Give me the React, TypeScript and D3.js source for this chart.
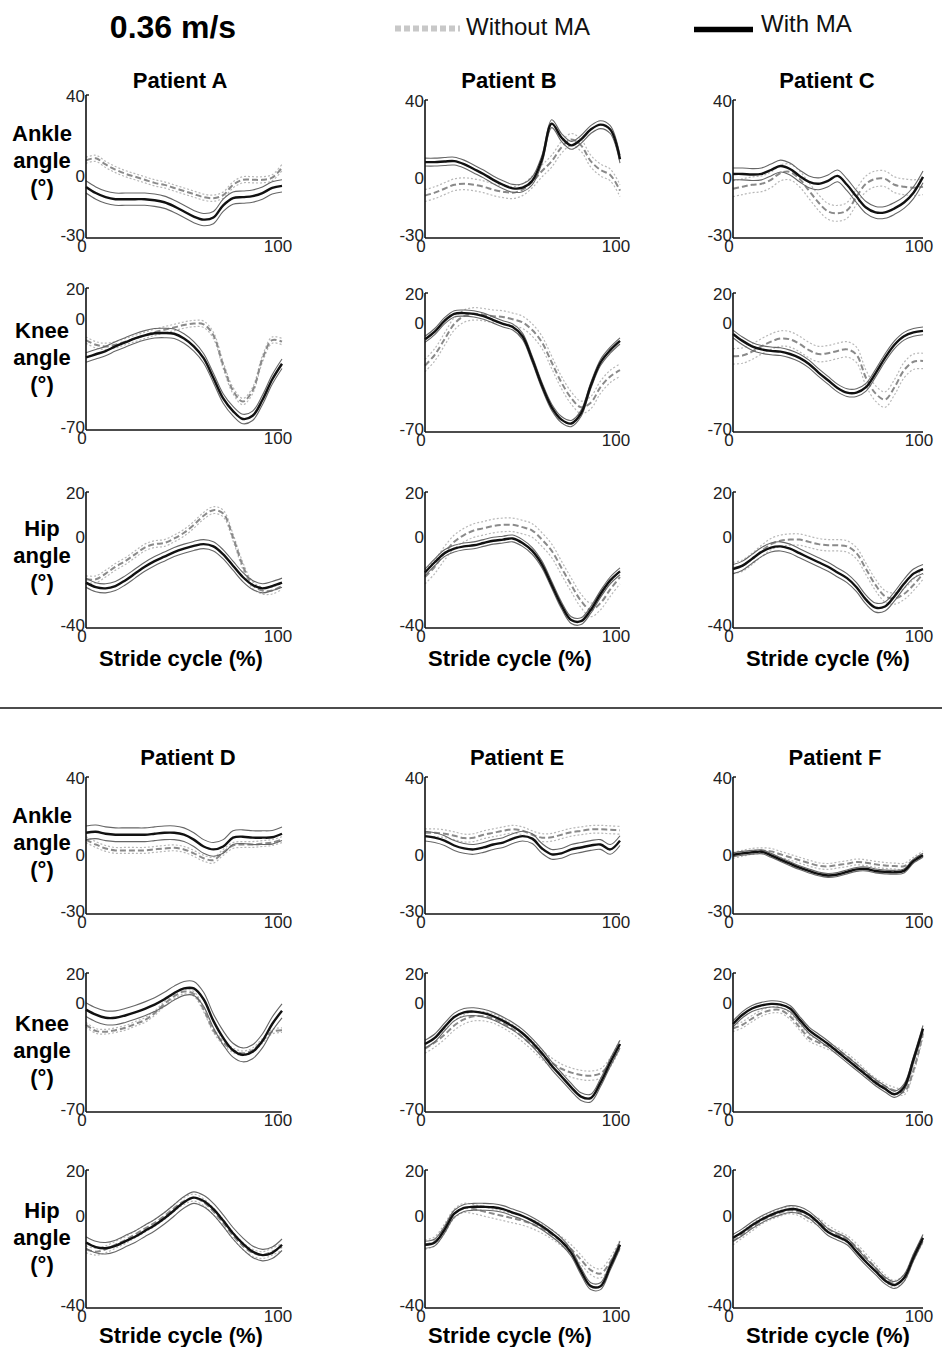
import React from "react";
import * as d3 from "d3";

// ---------- DATA ----------
const PCT = [0, 5, 10, 15, 20, 25, 30, 35, 40, 45, 50, 55, 60, 65, 70, 75, 80, 85, 90, 95, 100];
const patientsTop = ["Patient A", "Patient B", "Patient C"];
const patientsBottom = ["Patient D", "Patient E", "Patient F"];
const jointNames = ["Ankle", "Knee", "Hip"];
const ankleTicks = [40, 0, -30];
const kneeTicks = [20, 0, -70];
const hipTicks = [20, 0, -40];
const xTickLabels = ["0", "100"];
const speedLabel = "0.36 m/s";
const legendLabels = ["Without MA", "With MA"];
const xAxisTitle = "Stride cycle (%)";

// Patient A
const aAnkleWith = [-5, -8, -10, -11, -11, -11, -11, -11.5, -12.5, -14.5, -17, -19.5, -21, -20, -14, -10.5, -10, -9.5, -8, -5.5, -4.5];
const aAnkleWithout = [8, 9, 6, 3.5, 1.5, 0, -1.5, -3, -4, -5.5, -7, -8.5, -10, -10.5, -9, -4, -1.5, -1.5, -1.5, -0.5, 4.5];
const aKneeWith = [-24, -22, -20, -17, -14.5, -12, -10, -8.7, -8.5, -9, -12, -17, -24.5, -37, -50, -58, -63, -61, -51, -38, -28];
const aKneeWithout = [-13, -16, -17, -16, -14, -12, -10, -8, -6.5, -5, -3.5, -2.5, -3, -10, -29, -45, -52, -45, -25, -13, -14];
const aHipWith = [-20, -22, -22.5, -21.5, -19, -16, -13, -10.5, -8.5, -6.5, -5, -3.8, -3, -4, -7.5, -12.5, -17.5, -21, -22.5, -21.5, -20];
const aHipWithout = [-18.5, -18.5, -16, -13, -10.5, -7.5, -4.5, -3, -2.5, -0.5, 2, 5.5, 9.5, 12, 10.5, 0, -12.5, -21, -23.5, -23.5, -21.5];
// Patient B
const bAnkleWith = [8.5, 8.5, 8.8, 9, 7.5, 5, 2.5, -0.5, -3, -4.8, -4.5, -1, 10, 28, 21, 17, 20, 25, 27.5, 25, 10];
const bAnkleWithout = [-8.5, -7, -5, -3, -2.5, -3, -4, -5.5, -6.5, -7, -5.5, -1.5, 4, 9, 16, 20, 17, 9, 4.5, 2, -6];
const bKneeWith = [-10, -5, 2, 6.5, 7, 6.5, 5, 2.5, 0, -2, -8, -23, -40, -54, -62, -64.5, -58, -40, -25, -17, -11];
const bKneeWithout = [-27, -20, -10, 0, 5, 6.5, 6, 5, 4.5, 3, 1, -4, -12, -25, -38, -48, -54, -51, -41, -34, -30];
const bHipWith = [-15.5, -11, -7, -5, -4, -3.5, -2.5, -1.5, -1, -0.5, -2.5, -6, -12, -21, -30, -36.5, -37, -32, -25, -19, -15];
const bHipWithout = [-17.5, -13, -7, -2, 1, 3, 4, 5, 5.5, 5.5, 4.5, 3, -1, -6, -13.5, -21, -28, -32, -29, -23, -17.5];
// Patient C
const cAnkleWith = [2.5, 2.5, 2.2, 2.5, 4.5, 6.5, 5, 1.5, -1.5, -2.5, -1, 1.5, -3, -9, -14.5, -17, -17, -15, -12, -7, 1];
const cAnkleWithout = [-5, -4, -3, -2.5, -0.5, 3, 3.5, 0, -6, -12, -16.5, -17.5, -16, -9, -2.5, 0, 0, -3, -4, -4.5, -4];
const cKneeWith = [-6.5, -11, -14.5, -16.5, -17.5, -18, -19.5, -22, -26, -31.5, -36.5, -41.5, -44.5, -44.5, -41, -32, -22, -13.5, -8, -5.5, -4.5];
const cKneeWithout = [-21, -20.5, -18, -14.5, -11.5, -9.5, -10, -13, -17, -19.5, -19, -17.5, -16.5, -20, -35, -45, -49, -41, -30, -24.5, -24];
const cHipWith = [-14, -12.5, -9.5, -6.5, -4.5, -4, -5, -7, -9, -11, -13, -15.5, -18, -22, -27.5, -31, -30.5, -26, -20.5, -16, -14];
const cHipWithout = [-13.5, -12.5, -9.5, -6, -3, -1.5, -1, -1, -2, -3, -3.5, -3.5, -4, -7, -14, -21, -26, -27, -25, -21, -16];
// Patient D
const dAnkleWith = [11.5, 12, 11, 10.5, 10.5, 10.5, 10.5, 11, 11.5, 11.5, 10.5, 8, 4.5, 3, 4.5, 9, 9.5, 9, 9, 9.2, 11];
const dAnkleWithout = [8, 5.5, 3.5, 2.5, 2.5, 2.5, 2.5, 3, 3.5, 3.8, 3, 1, -1.5, -2.5, 1.5, 5, 5.5, 5.5, 6, 6.5, 8];
const dKneeWith = [-3.7, -7, -9, -9, -7.5, -5.5, -3.2, -0.5, 3, 7, 10, 10, 3, -11, -22, -30, -33, -31, -24, -13, -4.5];
const dKneeWithout = [-13.5, -17.5, -18, -17, -15.5, -13, -10.5, -6, 0, 5, 8, 6.5, -3.5, -17, -25, -30, -32, -30, -24, -18, -17];
const dHipWith = [-11.5, -13.5, -14, -13, -11, -9, -6.5, -4, -1, 2.5, 6, 8, 6.5, 3, -2, -7.5, -12, -15.5, -17, -16, -12.5];
const dHipWithout = [-14.5, -15.5, -14.5, -12.5, -10.5, -8, -5.5, -3, 0, 3.5, 6.5, 8, 6, 2, -3, -8.5, -13, -16, -17, -15.5, -13.5];
// Patient E
const eAnkleWith = [9.8, 9, 7.5, 5, 3.5, 3, 4, 5.5, 6.5, 8.5, 9.8, 8.5, 3.5, 0.5, 1, 3, 4, 5, 5.5, 3, 7.5];
const eAnkleWithout = [11.5, 11.5, 11, 10, 8.8, 9, 10.5, 11.5, 12.5, 13.3, 12.5, 10.5, 9, 9.2, 10.5, 11.8, 12.5, 13.2, 13.3, 13, 12.8];
const eKneeWith = [-26, -22, -15, -8.5, -5.5, -5, -6, -8, -11, -14.5, -19, -25, -32, -40, -47, -54, -60, -61, -51, -38, -26];
const eKneeWithout = [-29, -25, -20, -14, -10, -8, -8, -9.5, -12.5, -16.5, -21.5, -27, -33, -38, -42, -44.5, -46, -46.5, -45, -38, -26];
const eHipWith = [-12.5, -11.5, -6, 1, 3.5, 4, 4, 3.8, 3, 1.5, 0, -2, -4.5, -7.5, -11, -16, -24, -30.5, -30.5, -22, -12.5];
const eHipWithout = [-12.5, -11, -5.5, 1, 3.5, 3, 2, 1, 0, -1, -2, -3.5, -5.5, -8, -11, -14.5, -19, -23.5, -25, -20, -12.5];
// Patient F
const fAnkleWith = [0.3, 1, 1.5, 1.8, 0, -2.2, -4.3, -6.3, -8, -9.5, -10.3, -9.8, -8.5, -7.2, -7, -8, -8.5, -8.7, -8, -3, 0];
const fAnkleWithout = [0, 1, 2, 2.3, 2, 0.5, -1, -2.5, -4, -5.3, -5.7, -5, -4.3, -3.4, -3.8, -4.6, -5.2, -5.5, -5.6, -2.5, 0.7];
const fKneeWith = [-13, -7, -3, -1, 0, -0.5, -3, -10, -17, -21.5, -26, -31, -36, -41, -46, -51, -55, -58.5, -54, -36, -16];
const fKneeWithout = [-16, -13.5, -9.5, -6, -4, -4, -8, -15, -22, -25, -27.5, -30, -34, -39, -45, -50, -53.5, -56, -57, -43, -19];
const fHipWith = [-9.5, -7, -4, -1.5, 0.5, 2, 3, 2.5, 0.5, -3, -7, -9, -11, -15.5, -20, -24, -28, -30, -27, -18, -9.5];
const fHipWithout = [-11, -8, -5, -2, 0, 1.5, 2.5, 1.5, -1, -2.5, -5.5, -8, -10, -13.5, -18, -22.5, -27, -29.5, -27, -18, -10];

// Standard deviations (deg), per panel, order: A..F × ankle, knee, hip
const sdWith = [3, 3, 2, 2, 2, 1.5, 3, 2.5, 2, 3.5, 4.5, 2.5, 2.5, 2.5, 1.5, 1, 2, 1.5];
const sdWithout = [1.5, 2, 1.5, 3, 4, 3, 4, 5, 2.5, 1.5, 1.5, 1.5, 2, 3, 2, 1.5, 2, 1.5];

// ---------- LAYOUT ----------
const W = 942;
const H = 1347;
const colX0 = [86, 425, 733];
const colX1 = [282, 620, 923];
const colCenters = [181, 510, 828];
const frameTop = [
  [[95, 100, 100], [288, 293, 293], [492, 492, 492]],
  [[777, 777, 777], [973, 973, 973], [1170, 1170, 1170]],
];
const frameBottom = [
  [[238, 238, 238], [430, 432, 432], [628, 628, 628]],
  [[914, 914, 914], [1112, 1112, 1112], [1308, 1308, 1308]],
];
const titleY = [88, 765];
const strideY = [666, 1343];
const rowLabelY = [
  [141, 338, 536],
  [823, 1031, 1218],
];

const allData = [
  [aAnkleWith, aAnkleWithout, aKneeWith, aKneeWithout, aHipWith, aHipWithout],
  [bAnkleWith, bAnkleWithout, bKneeWith, bKneeWithout, bHipWith, bHipWithout],
  [cAnkleWith, cAnkleWithout, cKneeWith, cKneeWithout, cHipWith, cHipWithout],
  [dAnkleWith, dAnkleWithout, dKneeWith, dKneeWithout, dHipWith, dHipWithout],
  [eAnkleWith, eAnkleWithout, eKneeWith, eKneeWithout, eHipWith, eHipWithout],
  [fAnkleWith, fAnkleWithout, fKneeWith, fKneeWithout, fHipWith, fHipWithout],
];
const jointTicks = [ankleTicks, kneeTicks, hipTicks];

const FONT = "'Liberation Sans', Arial, Helvetica, sans-serif";

function Panel({ p, j }: { p: number; j: number }) {
  const half = p < 3 ? 0 : 1;
  const col = p % 3;
  const x0 = colX0[col];
  const x1 = colX1[col];
  const top = frameTop[half][j][col];
  const bottom = frameBottom[half][j][col];
  const ticks = jointTicks[j];
  const x = d3.scaleLinear().domain([0, 100]).range([x0, x1]);
  const y = d3.scaleLinear().domain([ticks[2], ticks[0]]).range([bottom, top]);
  const withMean = allData[p][j * 2];
  const withoutMean = allData[p][j * 2 + 1];
  const sW = sdWith[p * 3 + j];
  const sWo = sdWithout[p * 3 + j];
  const line = d3
    .line<number>()
    .x((_, i) => x(PCT[i]))
    .y((d) => y(d))
    .curve(d3.curveCatmullRom.alpha(0.5));
  const off = (arr: number[], s: number) => arr.map((v) => v + s);
  const tickY = (t: number, i: number) => (i === 2 ? y(t) - 3 : i === 0 ? y(t) + 1 : y(t));
  return (
    <g>
      <path d={line(off(withoutMean, sWo)) || ""} fill="none" stroke="#b8b8b8" strokeWidth={1.2} strokeDasharray="2,2" />
      <path d={line(off(withoutMean, -sWo)) || ""} fill="none" stroke="#b8b8b8" strokeWidth={1.2} strokeDasharray="2,2" />
      <path d={line(withoutMean) || ""} fill="none" stroke="#8a8a8a" strokeWidth={2} strokeDasharray="6,3" />
      <path d={line(off(withMean, sW)) || ""} fill="none" stroke="#666" strokeWidth={1.1} />
      <path d={line(off(withMean, -sW)) || ""} fill="none" stroke="#666" strokeWidth={1.1} />
      <path d={line(withMean) || ""} fill="none" stroke="#111" strokeWidth={2.4} />
      <line x1={x0} y1={top} x2={x0} y2={bottom} stroke="#111" strokeWidth={1.6} />
      <line x1={x0} y1={top} x2={x0 + 3} y2={top} stroke="#111" strokeWidth={1.4} />
      <line x1={x0} y1={bottom} x2={x1} y2={bottom} stroke="#111" strokeWidth={1.6} />
      {ticks.map((t, i) => (
        <text key={t} x={x0 - 1} y={tickY(t, i)} textAnchor="end" dominantBaseline="central" fontSize={17} fontFamily={FONT} fill="#222">
          {t}
        </text>
      ))}
      <text x={x(0) - 4} y={bottom + 8} textAnchor="middle" dominantBaseline="central" fontSize={17} fontFamily={FONT} fill="#222">
        {xTickLabels[0]}
      </text>
      <text x={x(100) - 4} y={bottom + 8} textAnchor="middle" dominantBaseline="central" fontSize={17} fontFamily={FONT} fill="#222">
        {xTickLabels[1]}
      </text>
    </g>
  );
}

export default function App() {
  const panels: React.ReactNode[] = [];
  for (let p = 0; p < 6; p++) for (let j = 0; j < 3; j++) panels.push(<Panel key={`${p}-${j}`} p={p} j={j} />);
  const titles = [patientsTop, patientsBottom];
  return (
    <svg width={W} height={H} style={{ position: "absolute", left: 0, top: 0, background: "#fff" }}>
      <rect x={0} y={0} width={W} height={H} fill="#fff" />
      <text x={173} y={38} textAnchor="middle" fontSize={32} fontWeight="bold" fontFamily={FONT} fill="#000">
        {speedLabel}
      </text>
      <line x1={395} y1={28.5} x2={460} y2={28.5} stroke="#c8c8c8" strokeWidth={6} strokeDasharray="6,3" />
      <text x={466} y={35} fontSize={24} fontFamily={FONT} fill="#111">
        {legendLabels[0]}
      </text>
      <line x1={694} y1={29.5} x2={753} y2={29.5} stroke="#000" strokeWidth={5.5} />
      <text x={761} y={32} fontSize={24} fontFamily={FONT} fill="#111">
        {legendLabels[1]}
      </text>
      <line x1={0} y1={708} x2={W} y2={708} stroke="#111" strokeWidth={1.5} />
      {[0, 1].map((half) => (
        <g key={half}>
          {titles[half].map((t, c) => (
            <text key={t} x={colCenters[c] + (half === 1 ? 7 : -1)} y={titleY[half]} textAnchor="middle" fontSize={22} fontWeight="bold" fontFamily={FONT} fill="#000">
              {t}
            </text>
          ))}
          {colCenters.map((cx, c) => (
            <text key={c} x={cx} y={strideY[half]} textAnchor="middle" fontSize={22} fontWeight="bold" fontFamily={FONT} fill="#000">
              {xAxisTitle}
            </text>
          ))}
          {jointNames.map((jn, j) => (
            <g key={jn}>
              <text x={42} y={rowLabelY[half][j]} textAnchor="middle" fontSize={22} fontWeight="bold" fontFamily={FONT} fill="#000">
                {jn}
              </text>
              <text x={42} y={rowLabelY[half][j] + 27} textAnchor="middle" fontSize={22} fontWeight="bold" fontFamily={FONT} fill="#000">
                angle
              </text>
              <text x={42} y={rowLabelY[half][j] + 54} textAnchor="middle" fontSize={22} fontWeight="bold" fontFamily={FONT} fill="#000">
                (°)
              </text>
            </g>
          ))}
        </g>
      ))}
      {panels}
    </svg>
  );
}
